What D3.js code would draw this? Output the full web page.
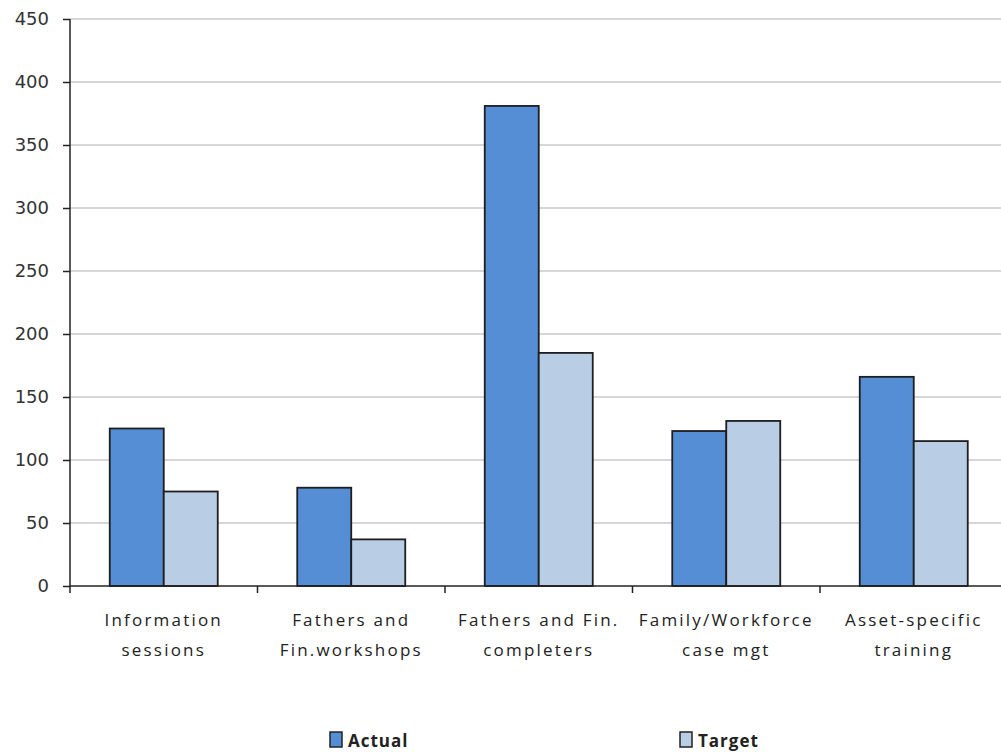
<!doctype html>
<html lang="en">
    <head>
        <meta charset="utf-8">
        <title>Actual vs Target</title>
        <script src="https://cdn.jsdelivr.net/npm/d3@7"></script>
        <style>
            body { margin: 0; background: #fff; }
            svg { display: block; overflow: hidden; }
            .tick text { fill: #333; }
        </style>
    </head>
    <body>
        <script>

            var categories = [
                ["Information", "sessions"],
                ["Fathers and", "Fin.workshops"],
                ["Fathers and Fin.", "completers"],
                ["Family/Workforce", "case mgt"],
                ["Asset-specific", "training"]
            ];
            var seriesNames = ["Actual", "Target"];
            var actual = [125, 78, 381, 123, 166];
            var target = [75, 37, 185, 131, 115];
            var yTicks = [0, 50, 100, 150, 200, 250, 300, 350, 400, 450];
            var colors = ["#558ed5", "#b9cde5"];

            var svgW = 1001, svgH = 752;
            var plot = {left: 70, right: 1007.5, top: 19, bottom: 586};

            var svg = d3.select("body")
                        .append("svg")
                        .attr("width", svgW)
                        .attr("height", svgH);

            var x = d3.scaleBand()
                      .domain(d3.range(categories.length))
                      .range([plot.left, plot.right]);
            var y = d3.scaleLinear()
                      .domain([0, 450])
                      .range([plot.bottom, plot.top]);
            var barW = 54;

            // gridlines
            svg.append("g")
               .selectAll("line")
               .data(yTicks.slice(1))
               .enter()
               .append("line")
               .attr("x1", plot.left)
               .attr("x2", svgW)
               .attr("y1", d => y(d))
               .attr("y2", d => y(d))
               .style("stroke", "#c8c8c8")
               .style("stroke-width", 1.5);

            // bars
            var data = [];
            categories.forEach((c, i) => {
                data.push({i: i, s: 0, v: actual[i]});
                data.push({i: i, s: 1, v: target[i]});
            });
            svg.append("g")
               .selectAll("rect")
               .data(data)
               .enter()
               .append("rect")
               .attr("x", d => x(d.i) + x.bandwidth() / 2 - barW + d.s * barW)
               .attr("y", d => y(d.v))
               .attr("width", barW)
               .attr("height", d => y(0) - y(d.v))
               .style("fill", d => colors[d.s])
               .style("stroke", "#1e1e1e")
               .style("stroke-width", 1.8);

            // y axis
            var yAxis = svg.append("g")
                           .attr("transform", "translate(" + plot.left + ",0)")
                           .call(d3.axisLeft(y).tickValues(yTicks).tickSize(7).tickPadding(14));
            yAxis.selectAll("text")
                 .style("font-family", "'DejaVu Sans', Verdana, sans-serif")
                 .style("font-size", "18px");
            yAxis.selectAll("line, path").style("stroke", "#222").style("stroke-width", 1.5);
            yAxis.select("path").attr("d", "M0," + plot.bottom + "V" + plot.top);

            // x axis
            var xAxis = svg.append("g")
                           .attr("transform", "translate(0," + plot.bottom + ")");
            xAxis.append("line")
                 .attr("x1", plot.left).attr("x2", svgW)
                 .style("stroke", "#222").style("stroke-width", 1.5);
            xAxis.selectAll(".xt")
                 .data(d3.range(categories.length + 1))
                 .enter()
                 .append("line")
                 .attr("class", "xt")
                 .attr("x1", d => plot.left + d * x.bandwidth())
                 .attr("x2", d => plot.left + d * x.bandwidth())
                 .attr("y1", 0).attr("y2", 7)
                 .style("stroke", "#222").style("stroke-width", 1.5);

            // category labels
            var labels = svg.append("g")
                            .selectAll("text")
                            .data(categories)
                            .enter()
                            .append("text")
                            .attr("text-anchor", "middle")
                            .style("font-family", "'Open Sans', sans-serif")
                            .style("font-size", "17px")
                            .style("letter-spacing", "2.2px")
                            .style("fill", "#222");
            labels.each(function(d, i) {
                var t = d3.select(this);
                d.forEach((line, k) => {
                    t.append("tspan")
                     .attr("x", x(i) + x.bandwidth() / 2)
                     .attr("y", 626 + k * 30)
                     .text(line);
                });
            });

            // legend
            var legendX = [330, 680];
            var legend = svg.append("g")
                            .selectAll("g")
                            .data(seriesNames)
                            .enter()
                            .append("g")
                            .attr("transform", (d, i) => "translate(" + legendX[i] + ",732)");
            legend.append("rect")
                  .attr("width", 12)
                  .attr("height", 15)
                  .style("fill", (d, i) => colors[i])
                  .style("stroke", "#222")
                  .style("stroke-width", 1.5);
            legend.append("text")
                  .attr("x", 18)
                  .attr("y", 15)
                  .style("font-family", "'Open Sans', sans-serif")
                  .style("font-weight", "bold")
                  .style("font-size", "17px")
                  .style("letter-spacing", "1px")
                  .style("fill", "#222")
                  .text(d => d);
        </script>
    </body>
</html>
